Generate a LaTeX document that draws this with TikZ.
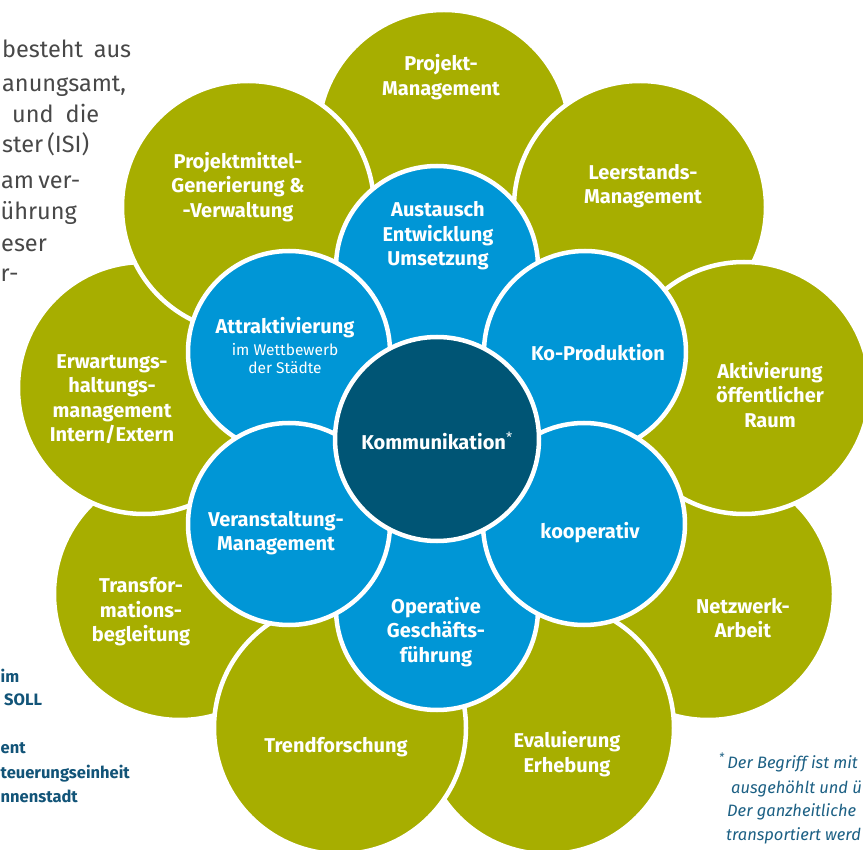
\documentclass[tikz,border=0pt]{standalone}
\usepackage{fontspec}
\setmainfont{Fira Sans}
\definecolor{grn}{RGB}{167,174,0}
\definecolor{blu}{RGB}{0,150,214}
\definecolor{drk}{RGB}{0,85,117}
\definecolor{grytxt}{RGB}{72,72,72}
\definecolor{tealtxt}{RGB}{18,84,120}
\definecolor{itxt}{RGB}{28,96,132}
\tikzset{
  gcirc/.style={circle, fill=grn, draw=white, line width=4.5pt, minimum size=252pt, inner sep=0pt},
  bcirc/.style={circle, fill=blu, draw=white, line width=4.5pt, minimum size=202pt, inner sep=0pt},
  dcirc/.style={circle, fill=drk, draw=white, line width=4.5pt, minimum size=204pt, inner sep=0pt},
  lbl/.style={text=white, align=center, inner sep=0pt, font=\fontsize{20}{24.5}\selectfont\bfseries},
  sublbl/.style={text=white, align=center, inner sep=0pt, font=\fontsize{15.5}{18}\selectfont},
  graytext/.style={text=grytxt, inner sep=0pt, anchor=base west, font=\fontsize{23.5}{32}\selectfont},
  tealtext/.style={text=tealtxt, inner sep=0pt, anchor=base west, font=\fontsize{16.5}{24}\selectfont\bfseries},
  notetext/.style={text=itxt, inner sep=0pt, anchor=base west, font=\fontsize{16.5}{24}\selectfont\itshape}
}
\begin{document}
\begin{tikzpicture}[x=1pt,y=-1pt]
\useasboundingbox (0,0) rectangle (863,850);
\clip (0,0) rectangle (863,850);
\fill[white] (0,0) rectangle (863,850);

% side texts
\node[graytext] (t1) at (2,58) {\makebox[129pt][s]{besteht aus}};
\node[graytext] (t2) at (2,92) {\makebox[126pt][s]{anungsamt,}};
\node[graytext] (t3) at (12,123) {\makebox[87pt][s]{und die}};
\node[graytext] (t4) at (2,153) {\makebox[84pt][s]{ster (ISI)}};
\node[graytext] (t5) at (1,189) {\makebox[78pt][s]{am ver-}};
\node[graytext] (t6) at (0.5,220) {ührung};
\node[graytext] (t7) at (1,252) {eser};
\node[graytext] (t8) at (0.5,282) {r-};

\node[tealtext] (b1) at (0.5,682) {im};
\node[tealtext] (b2) at (4,705) {SOLL};
\node[tealtext] (b3) at (0.5,753) {ent};
\node[tealtext] (b4) at (0.5,778) {teuerungseinheit};
\node[tealtext] (b5) at (0.5,802) {nnenstadt};

\node[notetext] (n1) at (719,768) {\textsuperscript{*}\,Der Begriff ist mit};
\node[notetext] (n2) at (731,793) {ausgehöhlt und ü};
\node[notetext] (n3) at (727,816) {Der ganzheitliche};
\node[notetext] (n4) at (726,840) {transportiert werd};

% green circles (bottom layer first)
\node[gcirc] (gproj) at (444,136) {};
\node[gcirc] (gnetz) at (708,594) {};
\node[gcirc] (gtrans) at (180,594) {};
\node[gcirc] (gleer) at (640,207) {};
\node[gcirc] (geval) at (548,728) {};
\node[gcirc] (gerw) at (144,388) {};
\node[gcirc] (gakt) at (744,388) {};
\node[gcirc] (gtrend) at (340,728) {};
\node[gcirc] (gmittel) at (248,207) {};

% blue circles
\node[bcirc] (baus) at (437,267) {};
\node[bcirc] (bop) at (437,609) {};
\node[bcirc] (battr) at (289,352) {};
\node[bcirc] (bko) at (585,352) {};
\node[bcirc] (bkoop) at (584,524) {};
\node[bcirc] (bver) at (289,524) {};

% center
\node[dcirc] (dkom) at (437,439) {};

% labels
\node[lbl] (lproj) at (441,77) {Projekt-\\Management};
\node[lbl] (lleer) at (643,186) {Leerstands-\\Management};
\node[lbl] (lakt) at (770,395) {Aktivierung\\öffentlicher\\Raum};
\node[lbl] (lnetz) at (743,618) {Netzwerk-\\Arbeit};
\node[lbl] (leval) at (567,754) {Evaluierung\\Erhebung};
\node[lbl] (ltrend) at (336,747) {Trendforschung};
\node[lbl] (ltrans) at (141,612) {Transfor-\\mations-\\begleitung};
\node[lbl] (lerw) at (112,399) {Erwartungs-\\haltungs-\\management\\Intern/Extern};
\node[lbl] (lmittel) at (238,187) {Projektmittel-\\Generierung \&\\-Verwaltung};
\node[lbl] (laus) at (438,236) {Austausch\\Entwicklung\\Umsetzung};
\node[lbl] (lko) at (598,353) {Ko-Produktion};
\node[lbl] (lkoop) at (590,533) {kooperativ};
\node[lbl] (lop) at (436,632) {Operative\\Geschäfts-\\führung};
\node[lbl] (lver) at (276,533) {Veranstaltung-\\Management};
\node[lbl] (lattr) at (285,328) {Attraktivierung};
\node[sublbl] (lattr2) at (285,359) {im Wettbewerb\\der Städte};
\node[lbl] (lkom) at (437,441) {Kommunikation\textsuperscript{\mdseries *}};
\end{tikzpicture}
\end{document}
